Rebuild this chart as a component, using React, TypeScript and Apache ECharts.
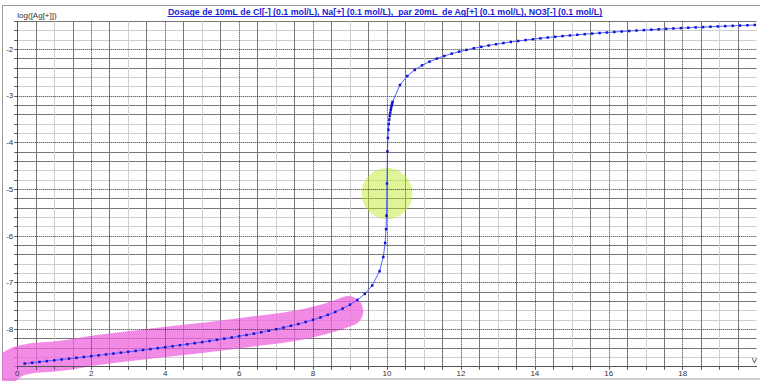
import React, { useEffect, useRef } from 'react';
import * as echarts from 'echarts';

// Volume of Ag+ solution added (mL)
const volumes = [0.2, 0.4, 0.6, 0.8, 1, 1.2, 1.4, 1.6, 1.8, 2, 2.2, 2.4, 2.6, 2.8, 3, 3.2, 3.4, 3.6, 3.8, 4, 4.2, 4.4, 4.6, 4.8, 5, 5.2, 5.4, 5.6, 5.8, 6, 6.2, 6.4, 6.6, 6.8, 7, 7.2, 7.4, 7.6, 7.8, 8, 8.2, 8.4, 8.6, 8.8, 9, 9.2, 9.4, 9.6, 9.8, 9.9, 9.95, 9.975, 9.9875, 10, 10.0125, 10.025, 10.0375, 10.05, 10.0625, 10.075, 10.0875, 10.1, 10.1125, 10.125, 10.1375, 10.15, 10.35, 10.55, 10.75, 10.95, 11.15, 11.35, 11.55, 11.75, 11.95, 12.15, 12.35, 12.55, 12.75, 12.95, 13.15, 13.35, 13.55, 13.75, 13.95, 14.15, 14.35, 14.55, 14.75, 14.95, 15.15, 15.35, 15.55, 15.75, 15.95, 16.15, 16.35, 16.55, 16.75, 16.95, 17.15, 17.35, 17.55, 17.75, 17.95, 18.15, 18.35, 18.55, 18.75, 18.95, 19.15, 19.35, 19.55, 19.75, 19.95];

// log([Ag+])
const logAg = [-8.733, -8.715, -8.698, -8.680, -8.663, -8.645, -8.628, -8.610, -8.592, -8.574, -8.556, -8.537, -8.519, -8.500, -8.481, -8.462, -8.442, -8.423, -8.403, -8.382, -8.361, -8.340, -8.318, -8.296, -8.273, -8.249, -8.225, -8.200, -8.175, -8.148, -8.120, -8.092, -8.061, -8.030, -7.997, -7.962, -7.924, -7.885, -7.842, -7.796, -7.745, -7.689, -7.627, -7.555, -7.471, -7.370, -7.240, -7.060, -6.754, -6.451, -6.150, -5.852, -5.565, -4.875, -4.186, -3.899, -3.726, -3.602, -3.506, -3.427, -3.361, -3.303, -3.252, -3.207, -3.166, -3.128, -2.765, -2.573, -2.442, -2.344, -2.265, -2.199, -2.143, -2.094, -2.051, -2.013, -1.978, -1.947, -1.918, -1.891, -1.866, -1.843, -1.822, -1.802, -1.783, -1.765, -1.748, -1.732, -1.717, -1.703, -1.689, -1.676, -1.663, -1.651, -1.640, -1.629, -1.618, -1.608, -1.598, -1.589, -1.580, -1.571, -1.562, -1.554, -1.546, -1.538, -1.531, -1.524, -1.517, -1.510, -1.503, -1.497, -1.491, -1.485, -1.479];

// Pink highlighter stroke (data coordinates)
const highlightV = [-0.25, 0.13, 1.15, 2.2, 3.55, 4.9, 6.25, 7.6, 8.4, 8.95];
const highlightLog = [-8.83, -8.66, -8.57, -8.44, -8.31, -8.19, -8.06, -7.91, -7.76, -7.61];

// Yellow-green circle at the equivalence point
const circleV = [10.0];
const circleLog = [-5.09];

// Major (dotted) grid values
const majorY = [-8, -7, -6, -5, -4, -3, -2];
const majorX = [2, 4, 6, 8, 10, 12, 14, 16, 18];

const titleText = 'Dosage de 10mL de Cl[-] (0.1 mol/L), Na[+] (0.1 mol/L),  par 20mL  de Ag[+] (0.1 mol/L), NO3[-] (0.1 mol/L)';
const xAxisName = 'V';
const yAxisName = 'log([Ag[+]])';

const FONT = '"Liberation Sans", Arial, sans-serif';

function fitFontSize(text: string, target: number): number {
  const c = document.createElement('canvas').getContext('2d');
  if (!c) return 9;
  c.font = `bold 10px ${FONT}`;
  const w = c.measureText(text).width;
  return w > 0 ? (10 * target) / w : 9;
}

export default function App() {
  const ref = useRef<HTMLDivElement>(null);

  useEffect(() => {
    if (!ref.current) return;
    const chart = echarts.init(ref.current, undefined, { renderer: 'svg' });

    const titleWidth = 435;
    const titleX = 385;
    const titleSize = fitFontSize(titleText, titleWidth);

    const isInt = (v: number) => Math.abs(v - Math.round(v)) < 1e-6;

    const xCommon = { type: 'value', min: 0, max: 20, interval: 0.5 };

    chart.setOption({
      animation: false,
      backgroundColor: '#ffffff',
      grid: { left: 17.3, top: 21.3, width: 745, height: 345.4, containLabel: false },
      xAxis: [
        {
          ...xCommon,
          z: 0,
          axisLine: { show: false },
          axisTick: { show: false },
          axisLabel: { show: false },
          splitLine: {
            show: true,
            lineStyle: { color: ['rgba(0,0,0,0)', '#767676', '#cfcfcf', '#767676'], width: 1 },
          },
        },
        {
          ...xCommon,
          z: 10,
          position: 'bottom',
          name: xAxisName,
          nameLocation: 'end',
          nameGap: -5,
          nameTextStyle: { align: 'left', verticalAlign: 'bottom', padding: [0, 0, 2, 0], fontSize: 8, color: '#333', fontFamily: FONT },
          axisLine: { show: true, onZero: false, lineStyle: { color: '#555', width: 1 } },
          axisTick: { show: true, length: 3, lineStyle: { color: '#555' } },
          axisLabel: {
            fontSize: 8,
            color: '#333',
            fontFamily: FONT,
            margin: 3,
            showMaxLabel: false,
            formatter: (v: number) => (isInt(v) && Math.round(v) % 2 === 0 && v < 20 ? String(Math.round(v)) : ''),
          },
          splitLine: { show: false },
        },
      ],
      yAxis: {
        type: 'value',
        min: -8.8,
        max: -1.4,
        interval: 0.2,
        name: yAxisName,
        nameLocation: 'end',
        nameGap: 6,
        nameTextStyle: { align: 'left', verticalAlign: 'middle', fontSize: 8, color: '#333', fontFamily: FONT, padding: [0, 0, 0, 0] },
        axisLine: { show: true, lineStyle: { color: '#555', width: 1 } },
        axisTick: { show: true, length: 3, lineStyle: { color: '#555' } },
        axisLabel: {
          fontSize: 8,
          color: '#333',
          fontFamily: FONT,
          margin: 4,
          formatter: (v: number) => (isInt(v) ? String(Math.round(v)) : ''),
        },
        splitLine: {
          show: true,
          lineStyle: { color: ['#cfcfcf', '#cfcfcf', '#767676', '#767676', 'rgba(0,0,0,0)'], width: 1 },
        },
      },
      graphic: [
        {
          type: 'rect',
          silent: true,
          shape: { x: 2.5, y: 5.5, width: 800, height: 373.5 },
          style: { fill: 'none', stroke: '#9a9a9a', lineWidth: 1 },
        },
        {
          type: 'text',
          silent: true,
          x: titleX,
          y: 12,
          style: {
            text: titleText,
            font: `bold ${titleSize.toFixed(2)}px ${FONT}`,
            fill: '#2222d6',
            align: 'center',
            textAlign: 'center',
            verticalAlign: 'middle',
            textVerticalAlign: 'middle',
          },
        },
        {
          type: 'line',
          silent: true,
          shape: { x1: titleX - titleWidth / 2, y1: 16.5, x2: titleX + titleWidth / 2, y2: 16.5 },
          style: { stroke: '#2222d6', lineWidth: 1 },
        },
      ],
      series: [
        {
          type: 'line',
          xAxisIndex: 0,
          data: [],
          silent: true,
          z: 1,
          markLine: {
            silent: true,
            symbol: ['none', 'none'],
            label: { show: false },
            lineStyle: { type: 'dotted', color: '#333', width: 1 },
            data: [...majorY.map((v) => ({ yAxis: v })), ...majorX.map((v) => ({ xAxis: v }))],
          },
        },
        {
          type: 'line',
          xAxisIndex: 0,
          data: highlightV.map((v, i) => [v, highlightLog[i]]),
          smooth: true,
          symbol: 'none',
          silent: true,
          clip: false,
          z: 2,
          lineStyle: { width: 30, color: 'rgba(238,100,222,0.75)', cap: 'round', join: 'round' },
        },
        {
          type: 'scatter',
          xAxisIndex: 0,
          data: circleV.map((v, i) => [v, circleLog[i]]),
          symbolSize: 51,
          silent: true,
          z: 3,
          itemStyle: { color: 'rgba(190,232,40,0.6)' },
        },
        {
          type: 'line',
          xAxisIndex: 0,
          data: volumes.map((v, i) => [v, logAg[i]]),
          symbol: 'rect',
          symbolSize: 2.5,
          showSymbol: true,
          showAllSymbol: true,
          z: 4,
          lineStyle: { color: '#5060ff', width: 1 },
          itemStyle: { color: '#1414d4' },
        },
      ],
    });

    return () => chart.dispose();
  }, []);

  return <div ref={ref} style={{ position: 'fixed', left: 0, top: 0, width: 760, height: 381 }} />;
}
